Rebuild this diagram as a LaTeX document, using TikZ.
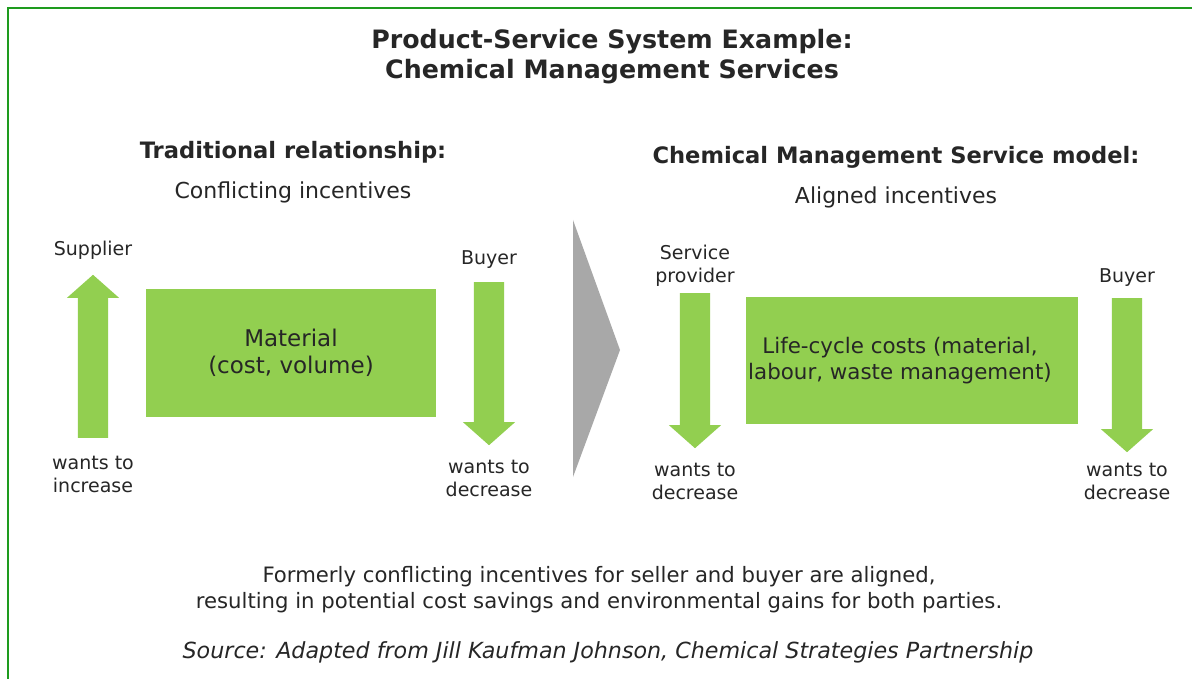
\documentclass[tikz,border=0pt]{standalone}
\usepackage{fontspec}
\setmainfont{DejaVu Sans}
\usepackage{xcolor}
\usepackage{tikz}
\usetikzlibrary{positioning,shapes.arrows}
\definecolor{leaf}{HTML}{92CF50}
\definecolor{framegreen}{HTML}{1E9B1E}
\definecolor{ink}{HTML}{262626}
\definecolor{chevgray}{HTML}{A8A8A8}
\tikzstyle{greenbox}=[rectangle, fill=leaf, text=ink, align=center, inner sep=0pt, font=\fontsize{23}{27}\selectfont]
\tikzstyle{bigarrow}=[single arrow, fill=leaf, draw=none, inner xsep=0pt, inner ysep=15pt, minimum width=52pt, single arrow head extend=11pt, single arrow tip angle=97, anchor=tail]
\tikzstyle{note}=[inner sep=0pt, text=ink, align=center, font=\fontsize{19}{23}\selectfont]
\tikzstyle{headbold}=[inner sep=0pt, text=ink, align=center, font=\fontsize{22.6}{28}\selectfont\bfseries]
\tikzstyle{subhead}=[inner sep=0pt, text=ink, align=center, font=\fontsize{22}{28}\selectfont]

\begin{document}
\begin{tikzpicture}[x=1pt, y=-1pt]
	\useasboundingbox (0,0) rectangle (1192,679);
	\fill[white] (0,0) rectangle (1192,679);
	\draw[framegreen, line width=2pt] (8,679) -- (8,8) -- (1192,8);

	\node[headbold, font=\fontsize{25.3}{30}\selectfont\bfseries] (title) at (612,57)
		{Product-Service System Example:\\Chemical Management Services};

	% left half: supplier and buyer pull apart
	\node[headbold] (tradhead) at (293,152) {Traditional relationship:};
	\node[subhead, below=18pt of tradhead] (tradsub) {Conflicting incentives};

	\node[greenbox, minimum width=290pt, minimum height=128pt] (material) at (291,353)
		{Material\\(cost, volume)};

	\node[bigarrow, rotate=90, minimum height=163pt] (supplierarr) at (93,438) {};
	\node[note, above=15pt of supplierarr.tip] (supplier) {Supplier};
	\node[note, below=18pt of supplierarr.tail] (supplierwant) {wants to\\increase};

	\node[bigarrow, rotate=-90, minimum height=163pt] (buyerarr) at (489,282) {};
	\node[note, above=13pt of buyerarr.tail] (buyer) {Buyer};
	\node[note, below=14pt of buyerarr.tip] (buyerwant) {wants to\\decrease};

	% chevron between the two models
	\fill[chevgray] (573,220) -- (620,350) -- (573,477) -- cycle;

	% right half: both sides want lower costs
	\node[headbold] (cmshead) at (896,157) {Chemical Management Service model:};
	\node[subhead, below=18pt of cmshead] (cmssub) {Aligned incentives};

	\node[greenbox, minimum width=332pt, minimum height=127pt] (lifecycle) at (912,360.5) {};
	\node[greenbox, fill=none, font=\fontsize{21.4}{26}\selectfont] (lifecycletext) at (900,360.5)
		{Life-cycle costs (material,\\labour, waste management)};

	\node[bigarrow, rotate=-90, minimum height=155pt] (providerarr) at (695,293) {};
	\node[note, above=6pt of providerarr.tail] (provider) {Service\\provider};
	\node[note, below=14pt of providerarr.tip] (providerwant) {wants to\\decrease};

	\node[bigarrow, rotate=-90, minimum height=154pt] (buyertwoarr) at (1127,298) {};
	\node[note, above=11pt of buyertwoarr.tail] (buyertwo) {Buyer};
	\node[note, below=10pt of buyertwoarr.tip] (buyertwowant) {wants to\\decrease};

	\node[note, font=\fontsize{21.2}{26}\selectfont] (summary) at (599,590)
		{Formerly conflicting incentives for seller and buyer are aligned,\\resulting in potential cost savings and environmental gains for both parties.};
	\node[note, font=\fontsize{22.2}{24}\selectfont\itshape] (source) at (608,652)
		{Source: Adapted from Jill Kaufman Johnson, Chemical Strategies Partnership};
\end{tikzpicture}
\end{document}
